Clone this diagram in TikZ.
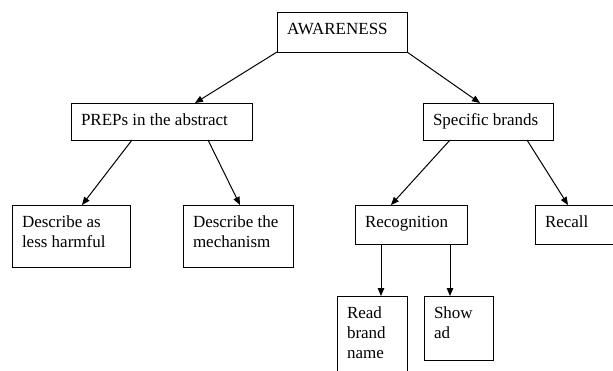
\documentclass[tikz,border=0pt]{standalone}
\usepackage{fontspec}
\setmainfont{Liberation Serif}
\usetikzlibrary{arrows.meta}
\newcommand\bxt[3]{\parbox[c][#2pt][t]{#1pt}{\raggedright\leftskip=10pt\fontsize{17}{20}\selectfont\rule{0pt}{22pt}#3}}
\tikzset{
  bx/.style={draw, line width=0.8pt, inner sep=0pt, outer sep=0pt, anchor=north west},
  arr/.style={line width=1pt, -{Triangle[length=8pt,width=6.5pt]}}
}
\begin{document}
\begin{tikzpicture}[x=1pt,y=-1pt]
\useasboundingbox (0,0) rectangle (613,370);
\node[bx] (aw) at (277,12) {\bxt{130}{40}{AWARENESS}};
\node[bx] (preps) at (71,103) {\bxt{181}{37}{PREPs in the abstract}};
\node[bx] (spec) at (423,103) {\bxt{130}{37}{Specific brands}};
\node[bx] (desc1) at (12,205) {\bxt{118}{62}{Describe as\\less harmful}};
\node[bx] (desc2) at (183,205) {\bxt{110}{62}{Describe the\\mechanism}};
\node[bx] (recog) at (355,205) {\bxt{112}{39}{Recognition}};
\node[bx] (recall) at (535,205) {\bxt{90}{39}{Recall}};
\node[bx] (read) at (337,296) {\bxt{70}{90}{Read\\brand\\name}};
\node[bx] (show) at (424,296) {\bxt{69}{64}{Show\\ad}};
\draw[arr] (aw.south west) -- ([xshift=124pt]preps.north west);
\draw[arr] (aw.south east) -- ([xshift=57pt]spec.north west);
\draw[arr] ([xshift=61pt]preps.south west) -- ([xshift=70pt]desc1.north west);
\draw[arr] ([xshift=137pt]preps.south west) -- ([xshift=57pt]desc2.north west);
\draw[arr] ([xshift=27pt]spec.south west) -- ([xshift=36pt]recog.north west);
\draw[arr] ([xshift=104pt]spec.south west) -- ([xshift=33pt]recall.north west);
\draw[arr] ([xshift=26pt]recog.south west) -- ([xshift=44pt]read.north west);
\draw[arr] ([xshift=95pt]recog.south west) -- ([xshift=26pt]show.north west);
\end{tikzpicture}
\end{document}
